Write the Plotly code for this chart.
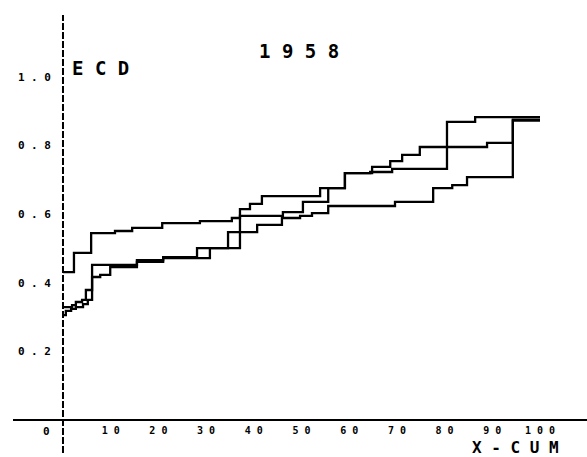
import plotly.graph_objects as go

# Cumulative step curves (x: cumulative percent, y: ECD)
a_x = [0, 2.3, 5.9, 10.9, 14.5, 20.8, 28.7, 35.4, 37.1, 39.2, 41.7, 53.9, 59.1, 64.4, 69.0, 80.5, 86.4, 100]
a_y = [0.431, 0.487, 0.545, 0.551, 0.560, 0.574, 0.580, 0.589, 0.615, 0.630, 0.653, 0.676, 0.720, 0.723, 0.732, 0.869, 0.883, 0.883]

b_x = [0, 1.9, 2.7, 4.0, 4.8, 6.1, 15.5, 21.0, 28.1, 37.1, 46.1, 50.3, 55.6, 59.1, 64.8, 68.6, 71.1, 74.8, 88.9, 94.3, 100]
b_y = [0.329, 0.335, 0.344, 0.350, 0.379, 0.452, 0.466, 0.475, 0.501, 0.595, 0.606, 0.636, 0.676, 0.720, 0.738, 0.755, 0.773, 0.796, 0.808, 0.876, 0.876]

c_x = [0, 0.6, 1.7, 2.7, 4.2, 5.2, 6.1, 7.8, 9.9, 15.5, 21.0, 30.8, 34.6, 40.7, 45.9, 49.7, 52.2, 55.6, 69.6, 77.6, 81.6, 84.7, 94.3, 100]
c_y = [0.306, 0.318, 0.324, 0.329, 0.338, 0.350, 0.417, 0.423, 0.446, 0.461, 0.472, 0.501, 0.548, 0.569, 0.589, 0.595, 0.603, 0.624, 0.636, 0.676, 0.685, 0.708, 0.873, 0.873]

x_ticks = [10, 20, 30, 40, 50, 60, 70, 80, 90, 100]
x_tick_text = ["1 0", "2 0", "3 0", "4 0", "5 0", "6 0", "7 0", "8 0", "9 0", "1 0 0"]
y_ticks = [0.2, 0.4, 0.6, 0.8, 1.0]
y_tick_text = ["0 . 2", "0 . 4", "0 . 6", "0 . 8", "1 . 0"]

W, H = 587, 457
MONO = "DejaVu Sans Mono"

fig = go.Figure()
for xs, ys in [(c_x, c_y), (b_x, b_y), (a_x, a_y)]:
    fig.add_trace(go.Scatter(
        x=xs, y=ys, mode="lines", line=dict(color="black", width=2.3, shape="hv"),
        hoverinfo="skip", showlegend=False,
    ))


def label(text, px, py, size, xanchor="center"):
    return dict(text=text, xref="paper", yref="paper", x=px / W, y=1 - py / H,
                xanchor=xanchor, yanchor="middle", showarrow=False,
                font=dict(family=MONO, size=size, weight="bold"))


fig.update_layout(
    width=W, height=H,
    margin=dict(l=0, r=0, t=0, b=0),
    paper_bgcolor="white", plot_bgcolor="white",
    font=dict(family=MONO, color="black"),
    xaxis=dict(
        domain=[13 / W, 1], range=[-10.48, 109.85],
        anchor="free", position=(H - 420) / H,
        showgrid=False, zeroline=False, showline=True, linecolor="black", linewidth=2,
        tickvals=x_ticks, ticktext=x_tick_text, ticks="",
        tickfont=dict(family=MONO, size=10, weight="bold"), ticklabelstandoff=1,
    ),
    yaxis=dict(
        domain=[4 / H, (H - 15) / H], range=[-0.0962, 1.1808],
        anchor="free", position=63 / W,
        showgrid=False, zeroline=False, showline=False,
        tickvals=y_ticks, ticktext=y_tick_text, ticks="",
        tickfont=dict(family=MONO, size=11, weight="bold"), ticklabelstandoff=12,
    ),
    shapes=[
        dict(type="line", xref="x", yref="y domain", x0=0, x1=0, y0=0, y1=1,
             line=dict(color="black", width=2, dash="7px,2px")),
    ],
    annotations=[
        label("1 9 5 8", 299, 51, 19),
        label("E C D", 70, 68, 19, xanchor="left"),
        label("X - C U M", 515, 447, 16),
        label("0", 46, 431, 11),
    ],
)

fig.write_html("out.html")
